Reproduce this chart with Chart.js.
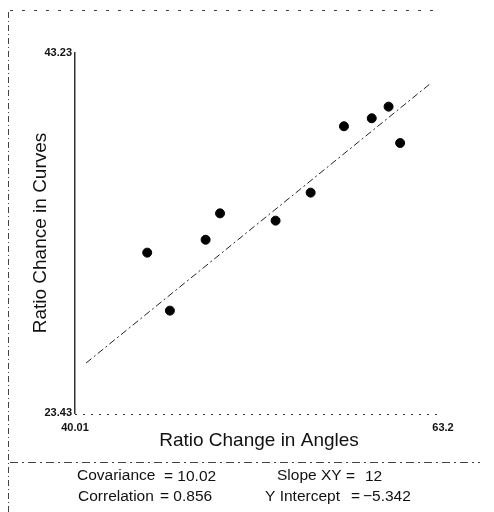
<!DOCTYPE html>
<html>
<head>
<meta charset="utf-8">
<script src="https://cdn.jsdelivr.net/npm/chart.js@4.4.1/dist/chart.umd.min.js"></script>
<style>
  html, body { margin: 0; padding: 0; background: #fff; }
  #wrap { width: 494px; height: 512px; position: relative; }
</style>
</head>
<body>
<div id="wrap"><canvas id="c" width="494" height="512"></canvas></div>
<script>
// ---- data ----
const xValues = [44.56, 45.99, 48.24, 49.15, 52.65, 54.86, 56.96, 58.71, 59.77, 60.50];
const yValues = [32.25, 29.06, 32.96, 34.41, 34.01, 35.55, 39.20, 39.64, 40.28, 38.28];
const fitX = [40.71, 62.38];
const fitY = [26.18, 41.53];
const xTickValues = [40.01, 63.2];
const xTickLabels = ['40.01', '63.2'];
const yTickValues = [23.43, 43.23];
const yTickLabels = ['23.43', '43.23'];
const xTitle = 'Ratio Change in Angles';
const yTitle = 'Ratio Chance in Curves';
const statNames = ['Covariance', 'Slope XY', 'Correlation', 'Y Intercept'];
const statValues = ['10.02', '12', '0.856', '\u22125.342'];

const points = xValues.map((x, i) => ({ x: x, y: yValues[i] }));
const fitPoints = fitX.map((x, i) => ({ x: x, y: fitY[i] }));

const FONT = "'Liberation Sans', Arial, sans-serif";

const framePlugin = {
  id: 'frame',
  afterDraw(chart) {
    const ctx = chart.ctx;
    const area = chart.chartArea;
    ctx.save();
    // dotted x axis (as in the scan)
    ctx.strokeStyle = '#333';
    ctx.lineWidth = 1;
    ctx.setLineDash([2, 6]);
    ctx.beginPath();
    ctx.moveTo(area.left, Math.round(area.bottom) + 1.5);
    ctx.lineTo(area.right, Math.round(area.bottom) + 1.5);
    ctx.stroke();
    // page frame (scan border)
    ctx.strokeStyle = '#444';
    ctx.setLineDash([6, 3, 1, 3]);
    ctx.beginPath();
    ctx.moveTo(8.5, 12); ctx.lineTo(8.5, 512);
    ctx.stroke();
    ctx.setLineDash([3, 9]);
    ctx.beginPath();
    ctx.moveTo(10, 10.5); ctx.lineTo(440, 10.5);
    ctx.stroke();
    // separator above the statistics
    ctx.setLineDash([8, 4, 2, 4]);
    ctx.beginPath();
    ctx.moveTo(10, 462.5); ctx.lineTo(480, 462.5);
    ctx.stroke();
    ctx.setLineDash([]);
    // statistics
    ctx.fillStyle = '#111';
    ctx.font = '15.5px ' + FONT;
    ctx.textBaseline = 'middle';
    ctx.textAlign = 'left';
    ctx.fillText(statNames[0], 77, 476);
    ctx.fillText('= ' + statValues[0], 164, 477);
    ctx.fillText(statNames[1], 277, 476);
    ctx.fillText('=', 346, 477);
    ctx.fillText(statValues[1], 365, 477);
    ctx.fillText(statNames[2], 78, 497);
    ctx.fillText('= ' + statValues[2], 160, 497);
    ctx.fillText(statNames[3], 265, 497);
    ctx.fillText('=', 351, 497);
    ctx.fillText(statValues[3], 363, 497);
    ctx.restore();
  }
};

new Chart(document.getElementById('c'), {
  type: 'scatter',
  data: {
    datasets: [
      {
        type: 'line',
        data: fitPoints,
        borderColor: '#222',
        borderWidth: 1,
        borderDash: [7, 3, 2, 3],
        pointRadius: 0,
        fill: false
      },
      {
        data: points,
        backgroundColor: '#000',
        borderColor: '#000',
        pointRadius: 4.5,
        pointHoverRadius: 4.5
      }
    ]
  },
  options: {
    responsive: false,
    animation: false,
    events: [],
    layout: { padding: { left: 0, top: 53, right: 51, bottom: 59 } },
    plugins: { legend: { display: false }, tooltip: { enabled: false } },
    scales: {
      x: {
        type: 'linear',
        min: xTickValues[0],
        max: xTickValues[1],
        afterBuildTicks: s => { s.ticks = xTickValues.map(v => ({ value: v })); },
        afterFit: s => { s.height = 40; },
        grid: { display: false, drawTicks: false },
        border: { display: false },
        ticks: {
          autoSkip: false, maxRotation: 0, padding: 8,
          color: '#111',
          font: { family: FONT, size: 11, weight: 'bold' },
          callback: (v, i) => xTickLabels[i]
        },
        title: {
          display: true, text: xTitle, color: '#111',
          font: { family: FONT, size: 19 },
          padding: { top: 0, bottom: 1 }
        }
      },
      y: {
        type: 'linear',
        min: yTickValues[0],
        max: yTickValues[1],
        afterBuildTicks: s => { s.ticks = yTickValues.map(v => ({ value: v })); },
        afterFit: s => { s.width = 75; },
        grid: { display: false, drawTicks: false },
        border: { display: true, color: '#333', width: 1.5 },
        ticks: {
          autoSkip: false, padding: 3,
          color: '#111',
          font: { family: FONT, size: 11, weight: 'bold' },
          callback: (v, i) => yTickLabels[i]
        },
        title: {
          display: true, text: yTitle, color: '#111',
          font: { family: FONT, size: 19 },
          padding: { top: 29, bottom: 0 }
        }
      }
    }
  },
  plugins: [framePlugin]
});
</script>
</body>
</html>
